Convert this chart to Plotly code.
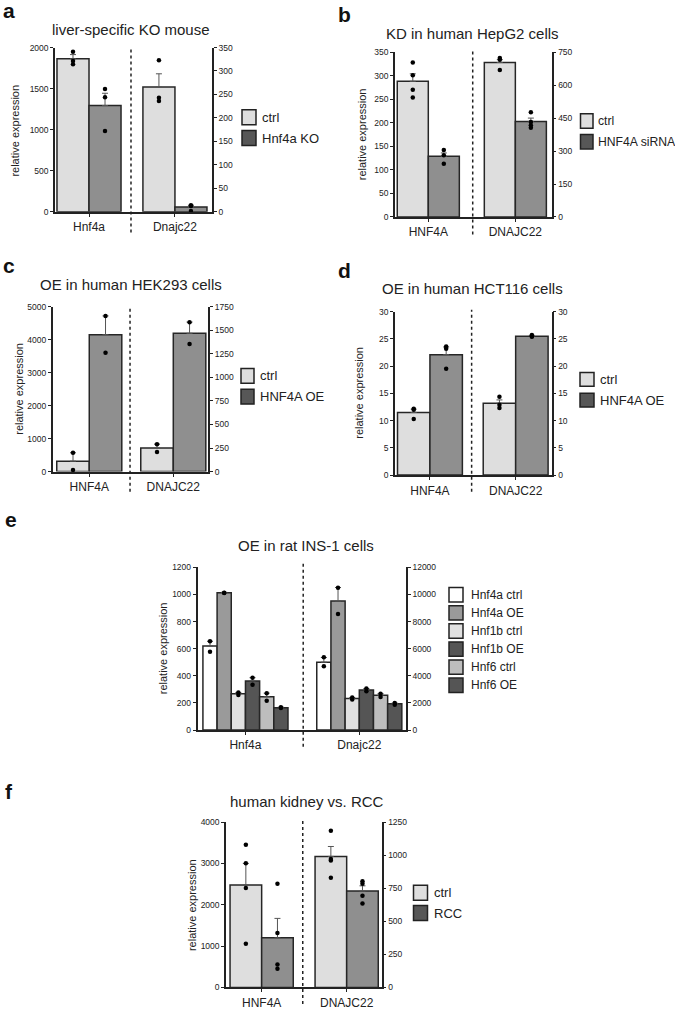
import plotly.graph_objects as go

W, H = 675, 1010
FONT = "Liberation Sans, Arial, Helvetica, sans-serif"
INK = "#222222"

# ---------------- data ----------------
# values indexed [series][gene]; dots are individual replicates
a_genes = ["Hnf4a", "Dnajc22"]
a_series = ["ctrl", "Hnf4a KO"]
a_mean = [[1862, 266], [1293, 10]]
a_sem = [[52, 28], [150, 4]]
a_dots = [[[1948, 1835, 1795], [323, 243, 236]],
          [[1494, 1394, 984], [14, 12, 1.5]]]

b_genes = ["HNF4A", "DNAJC22"]
b_series = ["ctrl", "HNF4A siRNA"]
b_mean = [[288, 703], [129, 435]]
b_sem = [[16, 13], [7, 15]]
b_dots = [[[328, 301, 270, 254], [724, 716, 669]],
          [[142, 131, 113], [477, 432, 417, 406]]]

c_genes = ["HNF4A", "DNAJC22"]
c_series = ["ctrl", "HNF4A OE"]
c_mean = [[315, 250], [4150, 1467]]
c_sem = [[255, 42], [570, 120]]
c_dots = [[[570, 50], [291, 207]],
          [[4720, 3600], [1586, 1355]]]

d_genes = ["HNF4A", "DNAJC22"]
d_series = ["ctrl", "HNF4A OE"]
d_mean = [[11.5, 13.2], [22.1, 25.5]]
d_sem = [[0.6, 0.6], [1.4, 0.15]]
d_dots = [[[12.2, 12.0, 10.3], [14.4, 12.9, 12.3]],
          [[23.6, 23.2, 19.5], [25.7, 25.5, 25.4]]]

e_genes = ["Hnf4a", "Dnajc22"]
e_series = ["Hnf4a ctrl", "Hnf4a OE", "Hnf1b ctrl", "Hnf1b OE", "Hnf6 ctrl", "Hnf6 OE"]
e_mean = [[619, 5000], [1012, 9520], [268, 2320], [362, 2950], [245, 2560], [165, 1930]]
e_sem = [[36, 350], [4, 990], [9, 80], [24, 110], [27, 120], [4, 60]]
e_dots = [[[655, 578], [5360, 4700]],
          [[1013, 1010], [10500, 8550]],
          [[276, 258], [2400, 2250]],
          [[386, 333], [3060, 2860]],
          [[271, 216], [2680, 2430]],
          [[167, 163], [1990, 1870]]]

f_genes = ["HNF4A", "DNAJC22"]
f_series = ["ctrl", "RCC"]
f_mean = [[2480, 990], [1200, 728]]
f_sem = [[520, 75], [470, 40]]
f_dots = [[[3450, 3000, 2405, 1059], [1183, 971, 959, 829]],
          [[2510, 1315, 557, 454], [802, 784, 692, 635]]]

panel_letters = ["a", "b", "c", "d", "e", "f"]
panel_titles = ["liver-specific KO mouse", "KD in human HepG2 cells",
                "OE in human HEK293 cells", "OE in human HCT116 cells",
                "OE in rat INS-1 cells", "human kidney vs. RCC"]
y_title = "relative expression"

# ---------------- styling / layout geometry (pixels) ----------------
LIGHT, MID, DARK = "#dedede", "#8f8f8f", "#575757"
two_bar = [LIGHT, MID]
two_leg = [LIGHT, DARK]
six_bar = ["#ffffff", "#9a9a9a", "#e0e0e0", "#555555", "#bdbdbd", "#555555"]

panels = [
    dict(genes=a_genes, series=a_series, mean=a_mean, sem=a_sem, dots=a_dots,
         bar=two_bar, leg=two_leg, L=55, R=212, T=43, B=209,
         centers=[0.2166, 0.764], bw=0.204, dash=0.484, dash_y=(42, 230),
         yl=(2000, 500), yr=(350, 50), letter=(1, 6), title=(131, 25), ytit=(15, 127),
         legx=(242, 256, 260), legy=[106, 127], legh=15, legfont=13),
    dict(genes=b_genes, series=b_series, mean=b_mean, sem=b_sem, dots=b_dots,
         bar=two_bar, leg=two_leg, L=395, R=551.7, T=47.7, B=214.3,
         centers=[0.2125, 0.768], bw=0.198, dash=0.496, dash_y=(47, 232),
         yl=(350, 50), yr=(750, 150), letter=(336, 10), title=(472, 29), ytit=(361.7, 131),
         legx=(580.5, 593, 596), legy=[110, 131], legh=14.5, legfont=12.2),
    dict(genes=c_genes, series=c_series, mean=c_mean, sem=c_sem, dots=c_dots,
         bar=two_bar, leg=two_leg, L=52.7, R=208.3, T=305, B=471.7,
         centers=[0.235, 0.775], bw=0.209, dash=0.497, dash_y=(304, 492),
         yl=(5000, 1000), yr=(1750, 250), letter=(1, 263), title=(130.5, 283), ytit=(19, 388),
         legx=(241, 254, 258), legy=[367.5, 388.5], legh=15, legfont=13),
    dict(genes=d_genes, series=d_series, mean=d_mean, sem=d_sem, dots=d_dots,
         bar=two_bar, leg=two_leg, L=395, R=551.7, T=310, B=475.3,
         centers=[0.223, 0.770], bw=0.207, dash=0.489, dash_y=(308, 492),
         yl=(30, 5), yr=(30, 5), letter=(336, 268), title=(472, 287), ytit=(359, 392),
         legx=(580, 594, 598), legy=[371.5, 392.5], legh=14, legfont=13),
    dict(genes=e_genes, series=e_series, mean=e_mean, sem=e_sem, dots=e_dots,
         bar=six_bar, leg=six_bar, L=197.5, R=406, T=568.5, B=733,
         centers=[0.230, 0.776], bw=0.068, dash=0.507, dash_y=(564, 750),
         yl=(1200, 200), yr=(12000, 2000), letter=(3, 520), title=(305.5, 546), ytit=(163.3, 650),
         legx=(449, 463, 469), legy=[589 + k * 18.3 for k in range(6)], legh=14.5, legfont=12),
    dict(genes=f_genes, series=f_series, mean=f_mean, sem=f_sem, dots=f_dots,
         bar=two_bar, leg=two_leg, L=226, R=381.7, T=826, B=993.3,
         centers=[0.229, 0.775], bw=0.203, dash=0.493, dash_y=(822, 1010),
         yl=(4000, 1000), yr=(1250, 250), letter=(3, 795), title=(307, 805), ytit=(192, 910),
         legx=(413.5, 427.5, 432), legy=[890, 910.5], legh=15, legfont=13),
]


def px(x):
    return x / W


def py(y):
    return 1 - y / H


fig = go.Figure()
layout = dict(width=W, height=H, margin=dict(l=0, r=0, t=0, b=0),
              paper_bgcolor="white", plot_bgcolor="rgba(0,0,0,0)",
              barmode="overlay", showlegend=False,
              font=dict(family=FONT, color=INK))
shapes, annotations = [], []

for i, p in enumerate(panels):
    xid = "x" if i == 0 else f"x{i + 1}"
    yl_id = "y" if i == 0 else f"y{2 * i + 1}"
    yr_id = f"y{2 * i + 2}"
    xkey = "xaxis" if i == 0 else f"xaxis{i + 1}"
    ylkey = "yaxis" if i == 0 else f"yaxis{2 * i + 1}"
    yrkey = f"yaxis{2 * i + 2}"
    n = len(p["series"])
    for s in range(n):
        for g in range(len(p["genes"])):
            yref = yl_id if g == 0 else yr_id
            xc = p["centers"][g] + (s - (n - 1) / 2) * p["bw"]
            fig.add_trace(go.Bar(
                x=[xc], y=[p["mean"][s][g]], width=[p["bw"]], xaxis=xid, yaxis=yref,
                marker=dict(color=p["bar"][s], line=dict(color="#262626", width=1.5)),
                error_y=dict(type="data", symmetric=False, array=[p["sem"][s][g]],
                             arrayminus=[0], color="#555555", thickness=1, width=3),
                showlegend=False, hoverinfo="skip"))
            pts = p["dots"][s][g]
            fig.add_trace(go.Scatter(
                x=[xc] * len(pts), y=pts, mode="markers", xaxis=xid, yaxis=yref,
                marker=dict(color="black", size=4.5), showlegend=False,
                cliponaxis=False, hoverinfo="skip"))

    ydom = [py(p["B"]), py(p["T"])]
    layout[xkey] = dict(domain=[px(p["L"]), px(p["R"])], range=[0, 1], anchor=yl_id,
                        tickvals=p["centers"], ticktext=p["genes"], ticks="outside",
                        ticklen=3, tickcolor=INK, showline=True, linewidth=2,
                        linecolor=INK, showgrid=False, zeroline=False,
                        tickfont=dict(size=12, color=INK, family=FONT), fixedrange=True)
    common_y = dict(domain=ydom, showline=True, linewidth=1.5, linecolor=INK,
                    ticks="outside", ticklen=3, tickwidth=1, tickcolor=INK,
                    showgrid=False, zeroline=False, anchor=xid, tickformat="d",
                    tickfont=dict(size=8.5, color=INK, family=FONT), fixedrange=True)
    layout[ylkey] = dict(common_y, range=[0, p["yl"][0]], dtick=p["yl"][1], tick0=0)
    layout[yrkey] = dict(common_y, range=[0, p["yr"][0]], dtick=p["yr"][1], tick0=0,
                         overlaying=yl_id, side="right")

    # dotted divider between the two genes
    shapes.append(dict(type="line", xref=xid, yref="paper", x0=p["dash"], x1=p["dash"],
                       y0=py(p["dash_y"][1]), y1=py(p["dash_y"][0]),
                       line=dict(color=INK, width=1.5, dash="dot")))

    # panel letter, title, y-axis title
    annotations.append(dict(text=f"<b>{panel_letters[i]}</b>", xref="paper", yref="paper",
                            x=px(p["letter"][0]), y=py(p["letter"][1]), xanchor="left",
                            yanchor="middle", showarrow=False,
                            font=dict(size=21, color="#111111", family=FONT)))
    annotations.append(dict(text=panel_titles[i], xref="paper", yref="paper",
                            x=px(p["title"][0]), y=py(p["title"][1]), xanchor="center",
                            yanchor="middle", showarrow=False,
                            font=dict(size=15, color=INK, family=FONT)))
    annotations.append(dict(text=y_title, xref="paper", yref="paper", textangle=-90,
                            x=px(p["ytit"][0]), y=py(p["ytit"][1]), xanchor="center",
                            yanchor="middle", showarrow=False,
                            font=dict(size=11, color=INK, family=FONT)))

    # legend
    x0, x1, xt = p["legx"]
    for s, name in enumerate(p["series"]):
        ytop = p["legy"][s]
        shapes.append(dict(type="rect", xref="paper", yref="paper",
                           x0=px(x0), x1=px(x1), y0=py(ytop + p["legh"]), y1=py(ytop),
                           fillcolor=p["leg"][s], line=dict(color=INK, width=1.5)))
        annotations.append(dict(text=name, xref="paper", yref="paper",
                                x=px(xt), y=py(ytop + p["legh"] / 2), xanchor="left",
                                yanchor="middle", showarrow=False,
                                font=dict(size=p["legfont"], color=INK, family=FONT)))

layout["shapes"] = shapes
layout["annotations"] = annotations
fig.update_layout(**layout)

fig.write_html("out.html", config={"displayModeBar": False},
               post_script="document.body.style.margin='0';")
